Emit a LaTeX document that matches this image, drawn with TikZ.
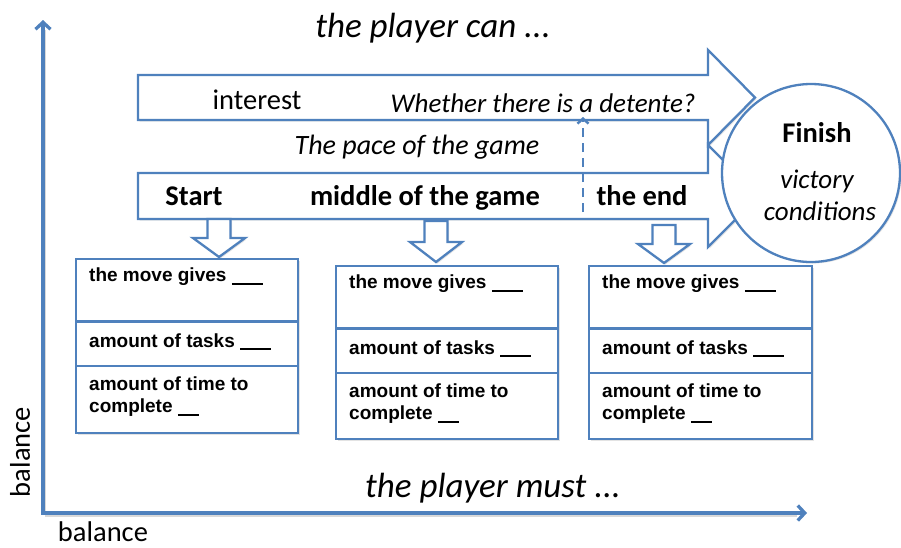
\documentclass[tikz,border=0pt]{standalone}
\usepackage{fontspec}
\setmainfont{Carlito}
\newfontfamily\arialfont{Liberation Sans}
\usetikzlibrary{arrows.meta,shapes.geometric,shadows}
\definecolor{ob}{RGB}{79,129,189}
\newcommand\myDownArrow[5]{%
  \draw[shapest] ({#1-11.5},#2) -- ({#1+11.5},#2) -- ({#1+11.5},#3) -- ({#1+26},#3)
     -- ({#1},#4) coordinate (#5) -- ({#1-26},#3) -- ({#1-11.5},#3) -- cycle;}
\newcommand\blankline[1]{\rule[-3.2pt]{#1}{2pt}}
\begin{document}
\begin{tikzpicture}[x=1pt,y=-1pt,
  shapest/.style={draw=ob, fill=white, line width=2.3pt, line join=miter,
     drop shadow={opacity=0.22, shadow xshift=1.5pt, shadow yshift=-1.5pt}},
  boxst/.style={draw=ob, fill=white, line width=2.3pt, inner sep=0pt,
     drop shadow={opacity=0.22, shadow xshift=1.5pt, shadow yshift=-1.5pt}},
  divider/.style={draw=ob, line width=2.3pt},
  axisst/.style={draw=ob, line width=3.3pt, -{Straight Barb[length=7pt,width=15pt]}},
  axisshadow/.style={draw=black!25, line width=3.3pt, opacity=0.6},
  lbl/.style={font=\fontsize{28.5}{32}\selectfont, inner sep=0pt},
  bld/.style={font=\fontsize{28.5}{32}\selectfont\bfseries, inner sep=0pt},
  ital/.style={font=\fontsize{27}{31}\selectfont\itshape, inner sep=0pt},
  big/.style={font=\fontsize{35}{40}\selectfont\itshape, inner sep=0pt},
  boxtxt/.style={font=\arialfont\bfseries\fontsize{19}{22.5}\selectfont, anchor=west, align=left, inner sep=0pt},
]
\useasboundingbox (0,0) rectangle (901,547);

% axes
\coordinate (origin) at (43,513);
\coordinate (ytop) at (43,20);
\coordinate (xend) at (807,513);
\draw[axisshadow] (44.5,515) -- (44.5,30);
\draw[axisshadow] (44.5,515) -- (797,515);
\draw[axisst] ([yshift=-1.6pt]origin) -- (ytop);
\draw[axisst] ([xshift=-1.6pt]origin) -- (xend);

% big arrows
\draw[shapest] (138,75) -- (708,75) -- (708,50) -- (755,97.5) coordinate (toptip) -- (708,145)
   -- (708,120) -- (138,120) -- cycle;
\draw[shapest] (138,173) -- (708,173) -- (708,145) -- (759,196) coordinate (bottip) -- (708,247)
   -- (708,219) -- (138,219) -- cycle;

% finish ellipse
\node[ellipse, draw=ob, fill=white, line width=2.3pt, minimum width=178pt, minimum height=178pt,
   drop shadow={opacity=0.22, shadow xshift=1.5pt, shadow yshift=-1.5pt}] (finish) at (811,173) {};
\node[bld] (fin) at (817,133) {Finish};
\node[ital] (vic) at (817,181) {victory};
\node[ital] (cond) at (820,211) {conditions};

% labels on arrows
\node[lbl] (interest) at (257,100) {interest};
\node[ital] (detente) at (543,103) {Whether there is a detente?};
\node[ital, font=\fontsize{28}{31}\selectfont\itshape] (pace) at (417,147) {The pace of the game};
\node[bld] (start) at (194,196) {Start};
\node[bld] (middle) at (425,198) {middle of the game};
\node[bld] (theend) at (642,196) {the end};

% dashed arrow
\coordinate (dashS) at (583,212);
\coordinate (dashE) at (583,117);
\draw[ob, line width=2.4pt, dash pattern=on 9pt off 6pt, -{Straight Barb[length=5pt,width=11pt]}] (dashS) -- (dashE);

% down arrows
\myDownArrow{219}{219}{238}{257}{d1}
\myDownArrow{436}{221}{242}{262}{d2}
\myDownArrow{664}{225}{244}{263}{d3}

% boxes
\node[boxst, anchor=north west, minimum width=222pt, minimum height=174pt] (box1) at (75,258) {};
\node[boxst, anchor=north west, minimum width=222pt, minimum height=173pt] (box2) at (335,265) {};
\node[boxst, anchor=north west, minimum width=223pt, minimum height=173pt] (box3) at (588,265) {};
\foreach \b in {box1,box2,box3}{
  \draw[divider] ([yshift=-63.5pt]\b.north west) -- ([yshift=-63.5pt]\b.north east);
  \draw[divider] ([yshift=-108pt]\b.north west) -- ([yshift=-108pt]\b.north east);
  \node[boxtxt] (\b-move) at ([xshift=14pt,yshift=-19pt]\b.north west) {the move gives \blankline{31pt}};
  \node[boxtxt] (\b-tasks) at ([xshift=14pt,yshift=-84pt]\b.north west) {amount of tasks \blankline{31pt}};
  \node[boxtxt] (\b-time) at ([xshift=14pt,yshift=-138.5pt]\b.north west) {amount of time to\\complete \blankline{21pt}};
}

% titles
\node[big] (can) at (433,28) {the player can ...};
\node[big] (must) at (493,488) {the player must ...};
\node[lbl, rotate=90] (balv) at (20,452) {balance};
\node[lbl] (balh) at (103,532) {balance};
\end{tikzpicture}
\end{document}
